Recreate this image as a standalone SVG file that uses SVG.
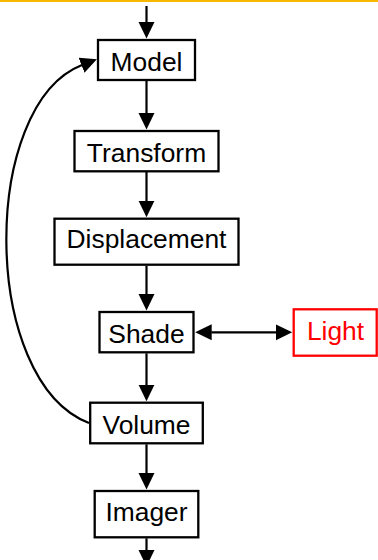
<svg xmlns="http://www.w3.org/2000/svg" width="378" height="560" viewBox="0 0 378 560">
<style>
.box{fill:#fff;stroke:#000;stroke-width:2.3}
.lbl{font-family:"Liberation Sans",Arial,sans-serif;font-size:26.4px;text-anchor:middle;fill:#000}
.red .box{stroke:#f00}
.red .lbl{fill:#f00}
.edge{fill:none;stroke:#000;stroke-width:2.2}
</style>
<defs>
<marker id="ah" markerUnits="userSpaceOnUse" markerWidth="18" markerHeight="18" viewBox="0 -9 18 18" refX="0.5" refY="0" orient="auto-start-reverse">
<path d="M0,-8 L16.5,0 L0,8 z" fill="#000"/>
</marker>
</defs>
<rect x="0" y="0" width="378" height="2" fill="#f6b800"/>
<g id="connectors">
<line class="edge" x1="146.5" y1="6" x2="146.5" y2="22.5" marker-end="url(#ah)"/>
<line class="edge" x1="146.5" y1="81" x2="146.5" y2="113.5" marker-end="url(#ah)"/>
<line class="edge" x1="146.5" y1="172" x2="146.5" y2="201.2" marker-end="url(#ah)"/>
<line class="edge" x1="146.5" y1="265.7" x2="146.5" y2="294.5" marker-end="url(#ah)"/>
<line class="edge" x1="146.5" y1="353.3" x2="146.5" y2="385.2" marker-end="url(#ah)"/>
<line class="edge" x1="146.5" y1="444.3" x2="146.5" y2="473.5" marker-end="url(#ah)"/>
<line class="edge" x1="146.5" y1="538.3" x2="146.5" y2="550.5" marker-end="url(#ah)"/>
<line class="edge" x1="211.2" y1="332.3" x2="276.2" y2="332.3" marker-start="url(#ah)" marker-end="url(#ah)"/>
<path class="edge" d="M89,423 C-20,381 -20,105 82,65" marker-end="url(#ah)"/>
</g>
<g id="model"><rect class="box" x="98" y="40" width="97" height="40"/><text class="lbl" x="146.5" y="71">Model</text></g>
<g id="transform"><rect class="box" x="74.5" y="131" width="144" height="40.3"/><text class="lbl" x="146.5" y="161.7">Transform</text></g>
<g id="displacement"><rect class="box" x="54.5" y="218.7" width="184" height="46"/><text class="lbl" x="146.5" y="248.3">Displacement</text></g>
<g id="shade"><rect class="box" x="99.5" y="312" width="94" height="40.3"/><text class="lbl" x="146.5" y="342.7">Shade</text></g>
<g id="light" class="red"><rect class="box" x="293.7" y="309.3" width="83" height="46.4"/><text class="lbl" x="335.5" y="340">Light</text></g>
<g id="volume"><rect class="box" x="90.2" y="402.7" width="112.6" height="40.6"/><text class="lbl" x="146.5" y="434">Volume</text></g>
<g id="imager"><rect class="box" x="94.7" y="491" width="103.6" height="46.3"/><text class="lbl" x="146.5" y="521">Imager</text></g>
</svg>
